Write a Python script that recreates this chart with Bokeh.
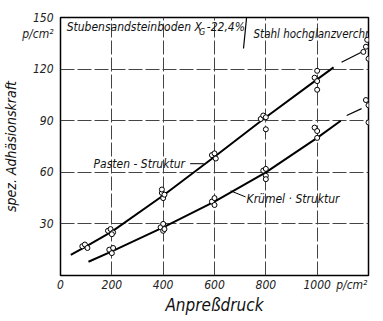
from bokeh.plotting import figure
from bokeh.models import Label, Range1d, FixedTicker
from bokeh.embed import file_html
from bokeh.resources import INLINE

# ---- data ----
x_ticks = [0, 200, 400, 600, 800, 1000]
y_ticks = [30, 60, 90, 120, 150]
x_unit_tick = 1135      # where the unit "p/cm²" sits after the 1000 label
y_unit_tick = 140.5     # where the unit "p/cm²" sits under the 150 label
unit_text = "p/cm²"
x_grid = [200, 400, 600, 800, 1000]
y_grid = [30, 60, 90, 120]

pasten_px = [85, 95, 105, 185, 195, 205, 200, 395, 400, 405, 395, 590, 600, 605,
             780, 790, 800, 800, 990, 1000, 1000, 1000, 1180, 1190, 1195, 1200]
pasten_py = [17, 18, 16, 26, 27, 25, 24, 48, 45, 47, 50, 70, 71, 68,
             91, 93, 92, 85, 115, 119, 113, 108, 130, 133, 137, 126]
krumel_px = [190, 200, 205, 390, 400, 400, 405, 590, 600, 600,
             790, 800, 800, 800, 990, 1000, 1000, 1190, 1200, 1200]
krumel_py = [15, 13, 16, 28, 30, 26, 27, 43, 45, 41,
             61, 62, 58, 56, 86, 84, 80, 102, 99, 89]

pasten_cx = [40, 100, 200, 400, 600, 800, 1000, 1064]
pasten_cy = [12, 17, 25.5, 46.5, 69, 92, 114, 121]
pasten_ext_x = [1095, 1170]
pasten_ext_y = [124, 129.6]
krumel_cx = [109, 200, 400, 600, 800, 1000, 1092]
krumel_cy = [8, 14, 28, 43, 60, 80, 90]
krumel_ext_x = [1115, 1173]
krumel_ext_y = [93, 97]

FONT = "DejaVu Sans Condensed"

p = figure(frame_width=308, frame_height=258, x_range=Range1d(0, 1200), y_range=Range1d(0, 150),
           output_backend="svg", toolbar_location=None,
           min_border_left=54, min_border_right=5, min_border_top=17, min_border_bottom=36)
p.background_fill_color = "white"
p.border_fill_color = "white"
p.outline_line_color = "black"
p.outline_line_width = 1.5

p.xaxis.ticker = FixedTicker(ticks=x_ticks + [x_unit_tick])
p.xaxis.major_label_overrides = {x_unit_tick: unit_text}
p.yaxis.ticker = FixedTicker(ticks=y_ticks + [y_unit_tick])
p.yaxis.major_label_overrides = {y_unit_tick: unit_text}
for ax in (p.xaxis, p.yaxis):
    ax.axis_line_color = None
    ax.major_tick_line_color = None
    ax.minor_tick_line_color = None
    ax.major_tick_out = 0
    ax.major_tick_in = 0
    ax.minor_tick_out = 0
    ax.minor_tick_in = 0
    ax.major_label_text_font = FONT
    ax.major_label_text_font_style = "italic"
    ax.major_label_text_font_size = "12px"
    ax.major_label_text_color = "#222222"
    ax.axis_label_text_font = FONT
    ax.axis_label_text_font_style = "italic"
    ax.axis_label_text_color = "#111111"
    ax.axis_label_standoff = 0
p.yaxis.major_label_standoff = 7
p.xaxis.major_label_standoff = 2
p.xaxis.axis_label = "Anpreßdruck"
p.xaxis.axis_label_text_font_size = "17px"
p.yaxis.axis_label = "spez. Adhäsionskraft"
p.yaxis.axis_label_text_font_size = "14px"

p.xgrid.ticker = FixedTicker(ticks=x_grid)
p.ygrid.ticker = FixedTicker(ticks=y_grid)
for g in (p.xgrid, p.ygrid):
    g.grid_line_color = "#444444"
    g.grid_line_width = 1
    g.grid_line_dash = "14 3"

# curves
p.line(pasten_cx, pasten_cy, line_color="black", line_width=2)
p.line(krumel_cx, krumel_cy, line_color="black", line_width=2)
p.line(pasten_ext_x, pasten_ext_y, line_color="black", line_width=1.2)
p.line(krumel_ext_x, krumel_ext_y, line_color="black", line_width=1.2)

# points
p.scatter(pasten_px, pasten_py, marker="circle", size=5, fill_color="white",
          line_color="black", line_width=1)
p.scatter(krumel_px, krumel_py, marker="circle", size=5, fill_color="white",
          line_color="black", line_width=1)

# leaders
p.line([505, 558], [65, 65], line_color="black", line_width=1)
p.line([663, 721], [49.2, 45.7], line_color="black", line_width=1)
# separator in title
p.line([713, 725], [132, 150], line_color="black", line_width=1.2)

def lab(x, y, text, size, align="left", baseline="middle"):
    p.add_layout(Label(x=x, y=y, text=text, text_font=FONT, text_font_style="italic",
                       text_font_size=size, text_align=align, text_baseline=baseline,
                       text_color="#111111"))

lab(129, 65, "Pasten - Struktur", "12px")
lab(725, 44.5, "Krümel · Struktur", "12px")
lab(24, 144.7, "Stubensandsteinboden X", "12px")
lab(540, 141.5, "G", "9px")
lab(570, 144.7, "-22,4%", "12px")
lab(752, 140.6, "Stahl hochglanzverchr.", "11.5px")

open("out.html", "w").write(file_html(p, INLINE))
